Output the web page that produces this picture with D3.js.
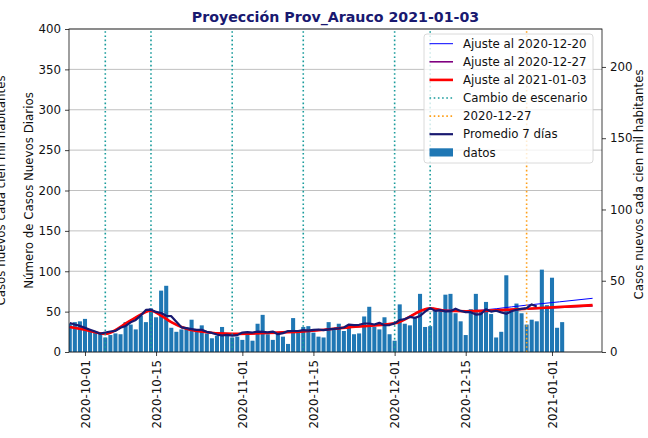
<!DOCTYPE html>
<html>
<head>
<meta charset="utf-8">
<script src="https://cdn.jsdelivr.net/npm/d3@7"></script>
<style>
  body { margin: 0; background: #fff; }
  text { font-family: "DejaVu Sans", sans-serif; }
</style>
</head>
<body>
<div id="chart"></div>
<script>
// daily new cases, starting at fechaInicio
const fechaInicio = "2020-09-28";
const casos = [35, 37, 38, 41, 27, 25, 23, 18, 21, 23, 22, 37, 34, 28, 45, 37, 54, 43, 76, 82,
  30, 25, 28, 30, 40, 28, 33, 23, 17, 20, 31, 23, 18, 19, 15, 22, 14, 35, 46, 22,
  15, 23, 19, 10, 42, 24, 31, 32, 24, 19, 18, 37, 30, 35, 26, 32, 22, 23, 44, 56,
  31, 28, 43, 22, 14, 59, 35, 33, 42, 72, 31, 32, 51, 51, 71, 72, 48, 38, 21, 53,
  72, 52, 62, 47, 18, 25, 95, 51, 60, 48, 34, 40, 38, 102, 58, 92, 30, 37];

// 7 day average, same start date
const promedio7 = [36, 34, 32.3, 29.9, 27.6, 25.4, 22.7, 24.1, 25.4, 26.1, 30, 32.3, 36.7, 39.7, 45.3, 52.1,
  52.4, 49.6, 48.3, 44.9, 44.4, 37.6, 30.6, 29.6, 28.4, 27.3, 27.4, 25, 23.6, 21.6, 20.4, 21.1,
  20.3, 20.9, 24.1, 24.7, 24.1, 25.3, 24.9, 24.3, 25.3, 22.1, 23.4, 25.9, 26, 26, 27.1, 26.4,
  27.3, 27.9, 27, 28.1, 28.6, 29.3, 30.3, 34, 33.4, 33.7, 35.3, 35.3, 34, 36.1, 33.1, 33.4,
  35.4, 39.6, 40.9, 43.4, 42.3, 44.6, 50, 54.3, 50.9, 51.9, 50.3, 50.6, 53.6, 50.9, 49.4, 49.3,
  46.4, 47, 53, 50, 51.1, 49.1, 47.3, 50.4, 52.3, 53.3, 54.3, 58.9, 56.3];

// fitted curves
const ajusteFechas = ["2020-09-28", "2020-10-01", "2020-10-05", "2020-10-10", "2020-10-14", "2020-10-16",
  "2020-10-18", "2020-10-20", "2020-10-23", "2020-10-30", "2020-11-06", "2020-11-13", "2020-11-22",
  "2020-12-01", "2020-12-08", "2020-12-11", "2020-12-15", "2020-12-27", "2021-01-09"];
const ajuste1220 = [31, 27.5, 22.5, 39, 51, 45, 37, 31, 26, 22.5, 23.5, 25.5, 30.5, 35.5, 54, 52, 51, 58, 66.5];
const ajuste1227 = [31, 27.5, 22.5, 39, 51, 45, 37, 31, 26, 22.5, 23.5, 25.5, 30.5, 35.5, 54, 51, 50.5, 53.3, 57];
const ajuste0103 = [31, 27.5, 22.5, 39, 51, 45, 37, 31, 26, 22.5, 23.5, 25.5, 30.5, 35.5, 54, 51, 50.5, 53.5, 58];

const cambiosEscenario = ["2020-10-05", "2020-10-14", "2020-10-30", "2020-11-13", "2020-12-01", "2020-12-08"];
const fechaCorte = "2020-12-27";

const xTicks = ["2020-10-01", "2020-10-15", "2020-11-01", "2020-11-15", "2020-12-01", "2020-12-15", "2021-01-01"];
const yTicks = [0, 50, 100, 150, 200, 250, 300, 350, 400];
const yTicksRight = [0, 50, 100, 150, 200];
const poblacion = 176500;

const W = 648, H = 438;
const margin = {top: 29, right: 46, bottom: 86, left: 69};
const x0 = margin.left, x1 = W - margin.right, y0 = H - margin.bottom, y1 = margin.top;

const parse = d3.utcParse("%Y-%m-%d");
const inicio = parse(fechaInicio);

const svg = d3.select("#chart").append("svg")
  .attr("width", W).attr("height", H);

const x = d3.scaleUtc()
  .domain([new Date("2020-09-27T20:24:00Z"), new Date("2021-01-10T20:24:00Z")])
  .range([x0, x1]);
const y = d3.scaleLinear().domain([0, 400]).range([y0, y1]);
const yR = d3.scaleLinear().domain([0, 400 * 100000 / poblacion]).range([y0, y1]);

svg.append("clipPath").attr("id", "plot")
  .append("rect").attr("x", x0).attr("y", y1).attr("width", x1 - x0).attr("height", y0 - y1);

// grid
svg.append("g").selectAll("line").data(yTicks).join("line")
  .attr("x1", x0).attr("x2", x1)
  .attr("y1", d => y(d)).attr("y2", d => y(d))
  .attr("stroke", "#b0b0b0").attr("stroke-width", 0.8);

const plot = svg.append("g").attr("clip-path", "url(#plot)");

// bars
const dayW = x(d3.utcDay.offset(inicio, 1)) - x(inicio);
plot.append("g").selectAll("rect").data(casos).join("rect")
  .attr("x", (d, i) => x(d3.utcDay.offset(inicio, i)) - dayW * 0.4)
  .attr("width", dayW * 0.8)
  .attr("y", d => y(d))
  .attr("height", d => y(0) - y(d))
  .attr("fill", "#1f77b4");

// fits
const fitLine = d3.line()
  .x((d, i) => x(parse(ajusteFechas[i])))
  .y(d => y(d))
  .curve(d3.curveMonotoneX);

plot.append("path").datum(ajuste1220).attr("d", fitLine)
  .attr("fill", "none").attr("stroke", "#0000ff").attr("stroke-width", 1);
plot.append("path").datum(ajuste1227).attr("d", fitLine)
  .attr("fill", "none").attr("stroke", "#800080").attr("stroke-width", 1.6);
plot.append("path").datum(ajuste0103).attr("d", fitLine)
  .attr("fill", "none").attr("stroke", "#ff0000").attr("stroke-width", 2.6);

// scenario changes
plot.append("g").selectAll("line").data(cambiosEscenario).join("line")
  .attr("x1", d => x(parse(d))).attr("x2", d => x(parse(d)))
  .attr("y1", y0).attr("y2", y1)
  .attr("stroke", "#1a9c9c").attr("stroke-width", 1.6)
  .attr("stroke-dasharray", "1.6,2.6");

plot.append("line")
  .attr("x1", x(parse(fechaCorte))).attr("x2", x(parse(fechaCorte)))
  .attr("y1", y0).attr("y2", y1)
  .attr("stroke", "#ffa01a").attr("stroke-width", 1.6)
  .attr("stroke-dasharray", "1.6,2.6");

// 7 day average
plot.append("path").datum(promedio7)
  .attr("d", d3.line().x((d, i) => x(d3.utcDay.offset(inicio, i))).y(d => y(d)))
  .attr("fill", "none").attr("stroke", "#191970").attr("stroke-width", 2.2)
  .attr("stroke-linejoin", "round");

// axes
const fs = 11.8;
const axL = svg.append("g").attr("transform", `translate(${x0},0)`)
  .call(d3.axisLeft(y).tickValues(yTicks).tickSize(4).tickPadding(4));
const axR = svg.append("g").attr("transform", `translate(${x1},0)`)
  .call(d3.axisRight(yR).tickValues(yTicksRight).tickSize(4).tickPadding(4));
const axB = svg.append("g").attr("transform", `translate(0,${y0})`)
  .call(d3.axisBottom(x).tickValues(xTicks.map(parse)).tickFormat(d3.utcFormat("%Y-%m-%d")).tickSize(4));
axB.selectAll("text")
  .attr("transform", "rotate(-90)")
  .attr("x", -8).attr("y", 0).attr("dy", "0.35em")
  .style("text-anchor", "end");
[axL, axR, axB].forEach(a => {
  a.select(".domain").remove();
  a.selectAll("text").attr("font-size", fs).attr("fill", "#111").attr("font-family", "DejaVu Sans");
  a.selectAll("line").attr("stroke", "#111").attr("stroke-width", 0.8);
});

// frame
svg.append("rect").attr("x", x0).attr("y", y1).attr("width", x1 - x0).attr("height", y0 - y1)
  .attr("fill", "none").attr("stroke", "#111").attr("stroke-width", 0.8);

// labels
svg.append("text")
  .attr("transform", `translate(32.5,${(y0 + y1) / 2}) rotate(-90)`)
  .attr("text-anchor", "middle").attr("font-size", fs).attr("fill", "#111")
  .text("Número de Casos Nuevos Diarios");
svg.append("text")
  .attr("transform", `translate(5,${(y0 + y1) / 2}) rotate(-90)`)
  .attr("text-anchor", "middle").attr("font-size", fs).attr("fill", "#111")
  .text("Casos nuevos cada cien mil habitantes");
svg.append("text")
  .attr("transform", `translate(643,${(y0 + y1) / 2 - 6}) rotate(-90)`)
  .attr("text-anchor", "middle").attr("font-size", fs).attr("fill", "#111")
  .text("Casos nuevos cada cien mil habitantes");

svg.append("text")
  .attr("x", (x0 + x1) / 2).attr("y", 22)
  .attr("text-anchor", "middle").attr("font-size", 14.2).attr("font-weight", "bold")
  .attr("fill", "#191970")
  .text("Proyección Prov_Arauco 2021-01-03");

// legend
const leyenda = [
  {label: "Ajuste al 2020-12-20", type: "line", color: "#0000ff", w: 1},
  {label: "Ajuste al 2020-12-27", type: "line", color: "#800080", w: 1.6},
  {label: "Ajuste al 2021-01-03", type: "line", color: "#ff0000", w: 2.6},
  {label: "Cambio de escenario", type: "dot", color: "#1a9c9c", w: 1.6},
  {label: "2020-12-27", type: "dot", color: "#ffa01a", w: 1.6},
  {label: "Promedio 7 días", type: "line", color: "#191970", w: 2.2},
  {label: "datos", type: "bar", color: "#1f77b4"}
];
const lg = svg.append("g");
lg.append("rect").attr("x", 424).attr("y", 34).attr("width", 169).attr("height", 129)
  .attr("rx", 3).attr("fill", "#fff").attr("fill-opacity", 0.8)
  .attr("stroke", "#d0d0d0").attr("stroke-width", 0.8);
leyenda.forEach((d, i) => {
  const cy = 43.7 + i * 18.1;
  if (d.type === "bar") {
    lg.append("rect").attr("x", 429.5).attr("y", cy - 4).attr("width", 23.5).attr("height", 8.2).attr("fill", d.color);
  } else {
    lg.append("line").attr("x1", 429.5).attr("x2", 453).attr("y1", cy).attr("y2", cy)
      .attr("stroke", d.color).attr("stroke-width", d.w)
      .attr("stroke-dasharray", d.type === "dot" ? "1.6,2.6" : null);
  }
  lg.append("text").attr("x", 463).attr("y", cy).attr("dy", "0.36em")
    .attr("font-size", fs).attr("fill", "#111").text(d.label);
});
</script>
</body>
</html>
